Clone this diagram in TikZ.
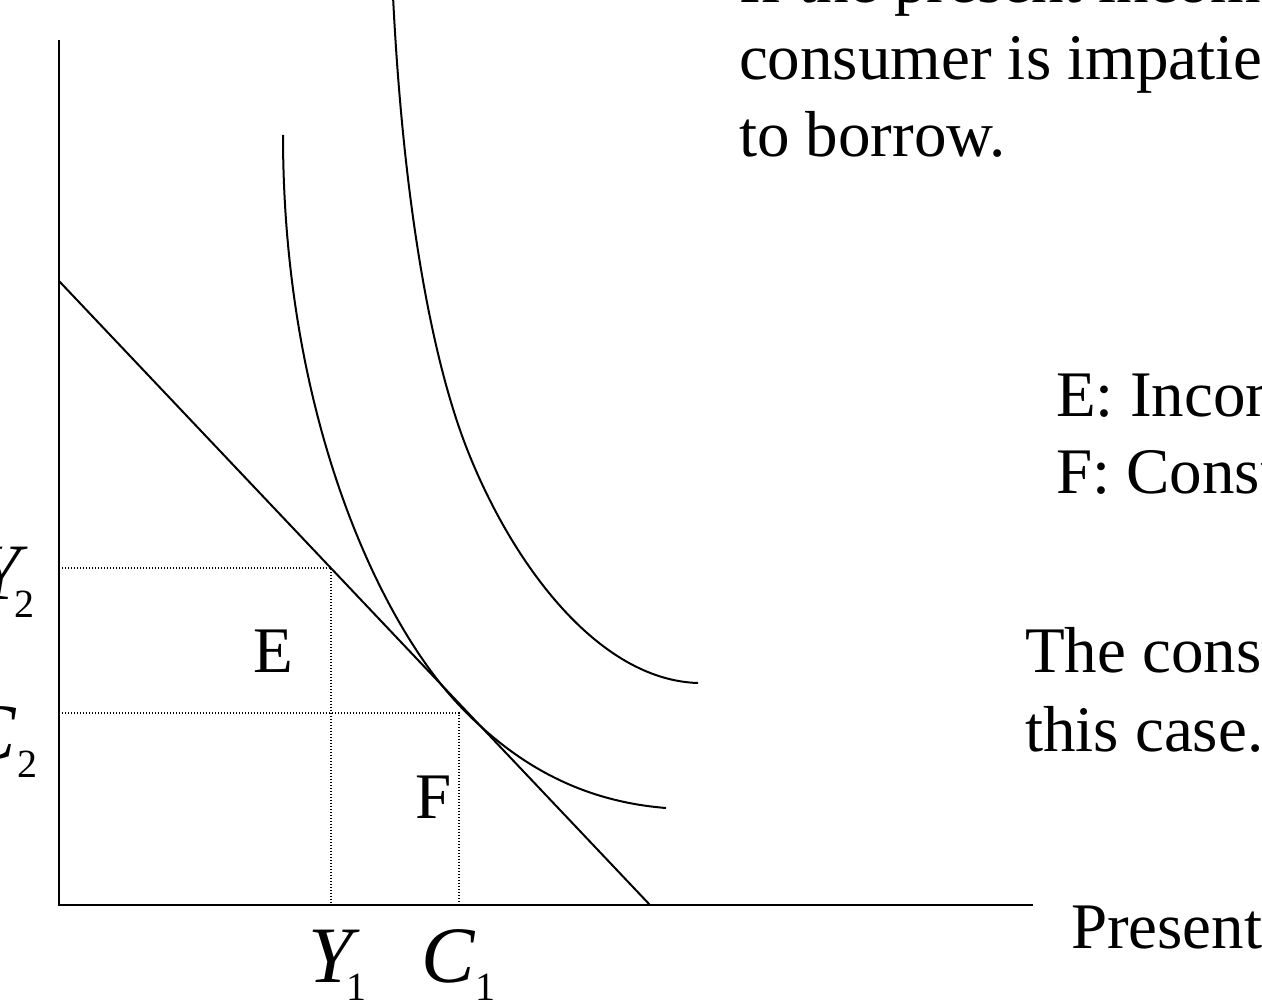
\documentclass[tikz,border=0pt]{standalone}
\usepackage{fontspec}
\setmainfont{Liberation Serif}
\begin{document}
\begin{tikzpicture}[x=0.5pt, y=-0.5pt, line width=1pt,
  guide/.style={dash pattern=on 0.6pt off 0.9pt, line width=0.6pt},
  txt/.style={anchor=base west, inner sep=0pt, font=\fontsize{32.5}{39}\selectfont},
  var/.style={anchor=base west, inner sep=0pt, font=\fontsize{40}{48}\selectfont\itshape}]
  \useasboundingbox (0,0) rectangle (1262,1005);
  \clip (0,0) rectangle (1262,1005);

  % Les axes
  \coordinate (O) at (59,905);
  \coordinate (ytop) at (59,40);
  \coordinate (xend) at (1033,905);
  \draw (ytop) -- (O) -- (xend);

  % La droite de budget
  \coordinate (B1) at (59,281);
  \coordinate (B2) at (650,905);
  \draw (B1) -- (B2);

  % Les pointilles
  \coordinate (E) at (331,568);
  \coordinate (F) at (459,713);
  \draw[guide] (E -| O) -- (E) -- (E |- O);
  \draw[guide] (F -| O) -- (F) -- (F |- O);

  % Les courbes d'indifference
  \draw (283,135) .. controls (283,415) and (379,620.5) .. (459,705)
        .. controls (519,768.4) and (586,801.6) .. (666,808);
  \draw (393,-4) .. controls (402,180) and (427,347) .. (467,449)
        .. controls (512,563.8) and (598,680) .. (698,683);

  % Les lettres
  \node[txt] (lblE) at (252,672) {E};
  \node[txt] (lblF) at (414,818) {F};
  \node[var] (y1) at (307,982) {Y\kern-3pt\raisebox{-9pt}{\fontsize{20}{24}\selectfont\upshape 1}};
  \node[var] (c1) at (420,982) {C\kern0.5pt\raisebox{-9pt}{\fontsize{20}{24}\selectfont\upshape 1}};
  \node[var] (y2) at (-25,599) {Y\kern-3pt\raisebox{-9pt}{\fontsize{20}{24}\selectfont\upshape 2}};
  \node[var] (c2) at (-38,759) {C\kern0.5pt\raisebox{-9pt}{\fontsize{20}{24}\selectfont\upshape 2}};

  % Les textes
  \node[txt] (top1) at (738,3) {If the present income};
  \node[txt] (top2) at (738,80) {consumer is impatient};
  \node[txt] (top3) at (738,157) {to borrow.};
  \node[txt] (keyE) at (1055,416) {E: Income};
  \node[txt] (keyF) at (1055,493) {F: Consumption};
  \node[txt] (note1) at (1024,672) {The consumer};
  \node[txt] (note2) at (1024,751) {this case.};
  \node[txt] (xlbl) at (1070,948) {Present};

\end{tikzpicture}
\end{document}
